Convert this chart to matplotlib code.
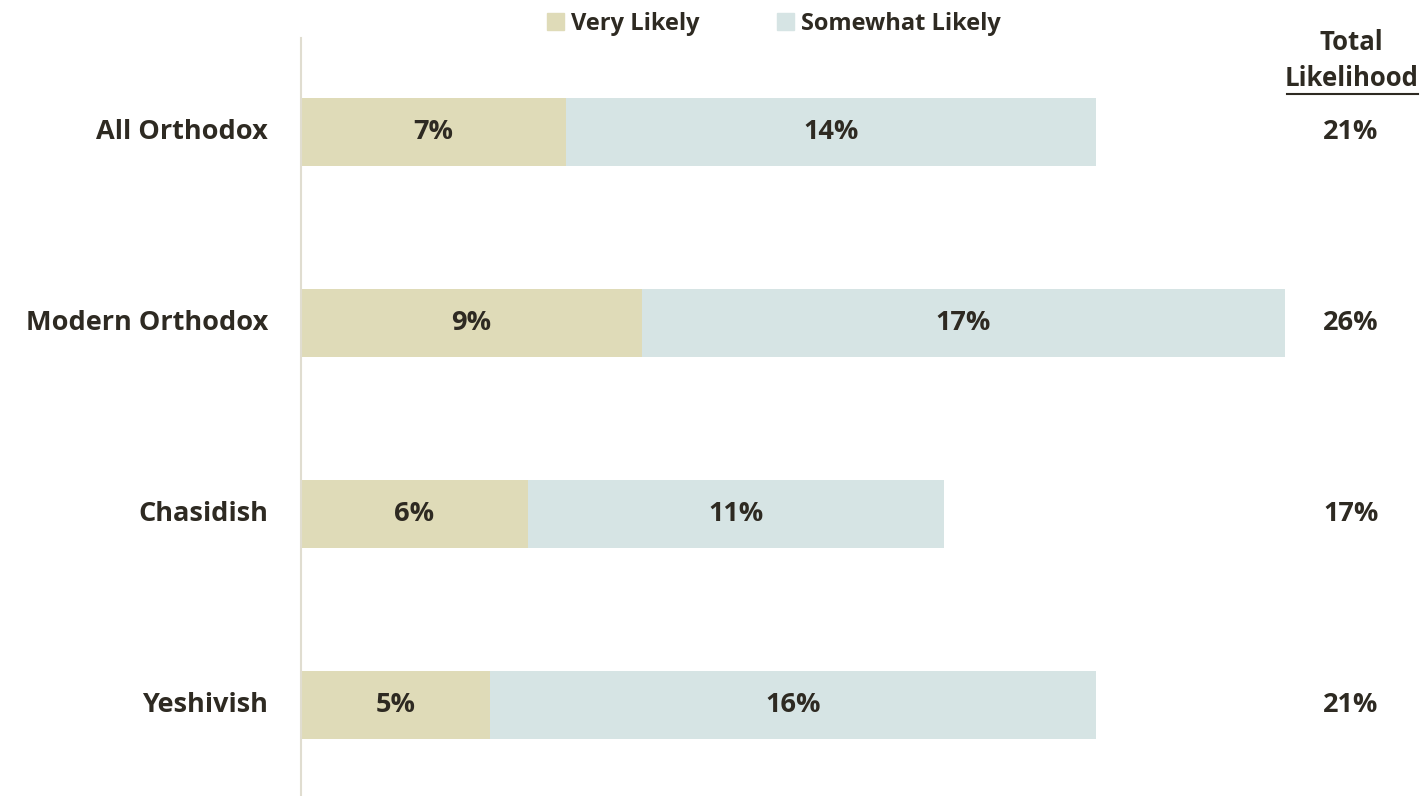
import matplotlib.pyplot as plt
from matplotlib.lines import Line2D
from matplotlib.patches import Patch

groups = ['All Orthodox', 'Modern Orthodox', 'Chasidish', 'Yeshivish']
very_likely = [7, 9, 6, 5]
somewhat_likely = [14, 17, 11, 16]
totals = ['21%', '26%', '17%', '21%']

c_very = '#DFDBB8'
c_some = '#D6E4E4'
c_text = '#2E2A22'

plt.rcParams['font.family'] = ['Open Sans', 'DejaVu Sans']
plt.rcParams['font.weight'] = 'bold'

W, H = 1422, 796
fig = plt.figure(figsize=(W / 100, H / 100), dpi=100)
ax = fig.add_axes([301 / W, 0, (1285 - 301) / W, (796 - 38) / H])

y = list(range(len(groups)))
bar_h = 0.356
ax.barh(y, very_likely, height=bar_h, color=c_very)
ax.barh(y, somewhat_likely, left=very_likely, height=bar_h, color=c_some)

fs = 19.5
for i in y:
    v, s = very_likely[i], somewhat_likely[i]
    ax.text(v / 2, i, f'{v}%', ha='center', va='center', fontsize=fs,
            fontweight='bold', color=c_text)
    ax.text(v + s / 2, i, f'{s}%', ha='center', va='center', fontsize=fs,
            fontweight='bold', color=c_text)
    ax.text(-0.87, i, groups[i], ha='right', va='center', fontsize=fs,
            fontweight='bold', color=c_text)
    fig.text(1351 / W, 1 - (132 + i * 191) / H, totals[i], ha='center',
             va='center', fontsize=fs, fontweight='bold', color=c_text)

ax.set_xlim(0, 26)
ax.set_ylim(3.476, -0.492)
ax.set_xticks([])
ax.set_yticks([])
for sp in ['top', 'right', 'bottom']:
    ax.spines[sp].set_visible(False)
ax.spines['left'].set_color('#E0DDD0')
ax.spines['left'].set_linewidth(1.5)

# Total Likelihood header
fig.text(1351 / W, 1 - 43 / H, 'Total', ha='center', va='center',
         fontsize=18.5, fontweight='bold', color=c_text)
fig.text(1352 / W, 1 - 78 / H, 'Likelihood', ha='center', va='center',
         fontsize=18.5, fontweight='bold', color=c_text)
fig.add_artist(Line2D([1287 / W, 1418 / W], [1 - 94 / H, 1 - 94 / H],
                      color=c_text, lw=1.5))

handles = [Patch(color=c_very, label='Very Likely'),
           Patch(color=c_some, label='Somewhat Likely')]
leg = fig.legend(handles=handles, loc='center', ncol=2, frameon=False,
                 bbox_to_anchor=(774 / W, 1 - 24 / H), fontsize=17,
                 handlelength=0.7, handleheight=0.7, handletextpad=0.3,
                 columnspacing=3.3)
for t in leg.get_texts():
    t.set_color(c_text)
    t.set_fontweight('bold')

fig.savefig('out.png', dpi=100)
